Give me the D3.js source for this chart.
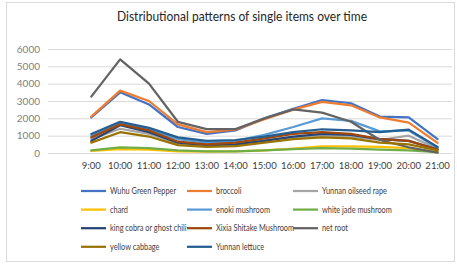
<!DOCTYPE html>
<html>
<head>
<meta charset="utf-8">
<script src="https://cdn.jsdelivr.net/npm/d3@7"></script>
<style>
  body { margin: 0; background: #fff; }
  svg { font-family: Lato, 'Open Sans', sans-serif; display: block; }
</style>
</head>
<body>
<div id="chart"></div>
<script>
const TIMES = ['9:00','10:00','11:00','12:00','13:00','14:00','15:00','16:00','17:00','18:00','19:00','20:00','21:00']
const Y_TICKS = [0, 1000, 2000, 3000, 4000, 5000, 6000]

const SERIES_NAMES = [
  'Wuhu Green Pepper', 'broccoli', 'Yunnan oilseed rape',
  'chard', 'enoki mushroom', 'white jade mushroom',
  'king cobra or ghost chili', 'Xixia Shitake Mushroom', 'net root',
  'yellow cabbage', 'Yunnan lettuce'
]
const COLORS = ['#4472c4','#ed7d31','#a5a5a5','#ffc000','#5b9bd5','#70ad47','#264478','#9e480e','#636363','#997300','#255e91']

const wuhu      = [2050, 3500, 2800, 1500, 1100, 1300, 2000, 2550, 3050, 2870, 2100, 2050, 800]
const broccoli  = [2100, 3600, 3000, 1650, 1200, 1350, 1950, 2500, 2950, 2750, 2050, 1750, 580]
const oilseed   = [ 800, 1400, 1100,  550,  450,  500,  750,  900, 1000,  950,  750, 1000, 250]
const chard     = [ 120,  220,  200,  100,   80,  100,  150,  250,  380,  380,  350,  280,  50]
const enoki     = [1000, 1700, 1350,  800,  600,  700, 1050, 1500, 2000, 1850, 1250, 1300, 300]
const whiteJade = [ 150,  330,  280,  150,  100,  100,  150,  230,  280,  250,  200,  150,  50]
const kingCobra = [ 700, 1600, 1200,  600,  450,  500,  700,  950, 1100, 1050,  800,  700, 200]
const xixia     = [ 900, 1650, 1300,  650,  500,  600,  850, 1100, 1200, 1100,  800,  700, 200]
const netRoot   = [3250, 5400, 4000, 1800, 1380, 1380, 2000, 2520, 2330, 1800,  750,  330,  20]
const cabbage   = [ 600, 1200,  950,  450,  350,  400,  600,  800,  900,  850,  600,  500, 150]
const lettuce   = [1100, 1800, 1450,  900,  700,  750,  950, 1200, 1370, 1300, 1200, 1350, 350]

const VALUES = [wuhu, broccoli, oilseed, chard, enoki, whiteJade, kingCobra, xixia, netRoot, cabbage, lettuce]

const W = 457, H = 264
const PLOT = { left: 48, right: 452, top: 49, bottom: 153 }

let svg = d3.select('#chart').append('svg')
  .attr('width', W)
  .attr('height', H)

svg.append('rect')
  .attr('x', 6.5).attr('y', 2.5)
  .attr('width', 448).attr('height', 259)
  .attr('fill', '#fff')
  .attr('stroke', '#d9d9d9')

// the source font is condensed, so squeeze Lato horizontally
svg.append('text')
  .attr('transform', 'translate(242,21) scale(0.925,1)')
  .attr('text-anchor', 'middle')
  .attr('font-size', 13)
  .attr('fill', '#262626')
  .text('Distributional patterns of single items over time')

// leading empty category, as in the source spreadsheet
let x = d3.scaleBand()
  .domain([''].concat(TIMES))
  .range([PLOT.left, PLOT.right])

let y = d3.scaleLinear()
  .domain([0, 6000])
  .range([PLOT.bottom, PLOT.top])

let yAxis = svg.append('g')
  .attr('transform', 'translate(' + PLOT.left + ',0)')
  .call(d3.axisLeft(y).tickValues(Y_TICKS).tickFormat(d3.format('d'))
    .tickSize(-(PLOT.right - PLOT.left)).tickPadding(8))

yAxis.select('.domain').remove()
yAxis.selectAll('.tick line').attr('stroke', '#d9d9d9')
yAxis.selectAll('.tick text')
  .attr('fill', '#7f7f7f')
  .attr('font-size', 10)
  .attr('font-family', 'Lato, sans-serif')

let xAxis = svg.append('g')
  .attr('transform', 'translate(0,' + PLOT.bottom + ')')
  .call(d3.axisBottom(x).tickValues(TIMES).tickSize(0).tickPadding(9))

xAxis.select('.domain').remove()
xAxis.selectAll('.tick text')
  .attr('fill', '#404040')
  .attr('font-size', 9.5)
  .attr('font-family', 'Lato, sans-serif')

let line = d3.line()
  .x((d, i) => x(TIMES[i]) + x.bandwidth() / 2)
  .y((d) => y(d))

svg.append('g')
  .selectAll('path')
  .data(VALUES)
  .enter().append('path')
    .attr('d', line)
    .attr('fill', 'none')
    .attr('stroke', (d, i) => COLORS[i])
    .attr('stroke-width', 2.25)
    .attr('stroke-linejoin', 'round')
    .attr('stroke-linecap', 'round')

// legend, three columns
let legend = svg.append('g')
  .selectAll('.legend-item')
  .data(SERIES_NAMES)
  .enter().append('g')
    .attr('class', 'legend-item')
    .attr('transform', (d, i) => 'translate(' + [81 + (i % 3) * 106, 191 + Math.floor(i / 3) * 18.6] + ')')

legend.append('line')
  .attr('x1', 0).attr('x2', 25)
  .attr('stroke', (d, i) => COLORS[i])
  .attr('stroke-width', 2.25)

legend.append('text')
  .attr('transform', 'translate(29,0) scale(0.82,1)')
  .attr('dy', '0.35em')
  .attr('font-size', 9)
  .attr('fill', '#404040')
  .text((d) => d)
</script>
</body>
</html>
